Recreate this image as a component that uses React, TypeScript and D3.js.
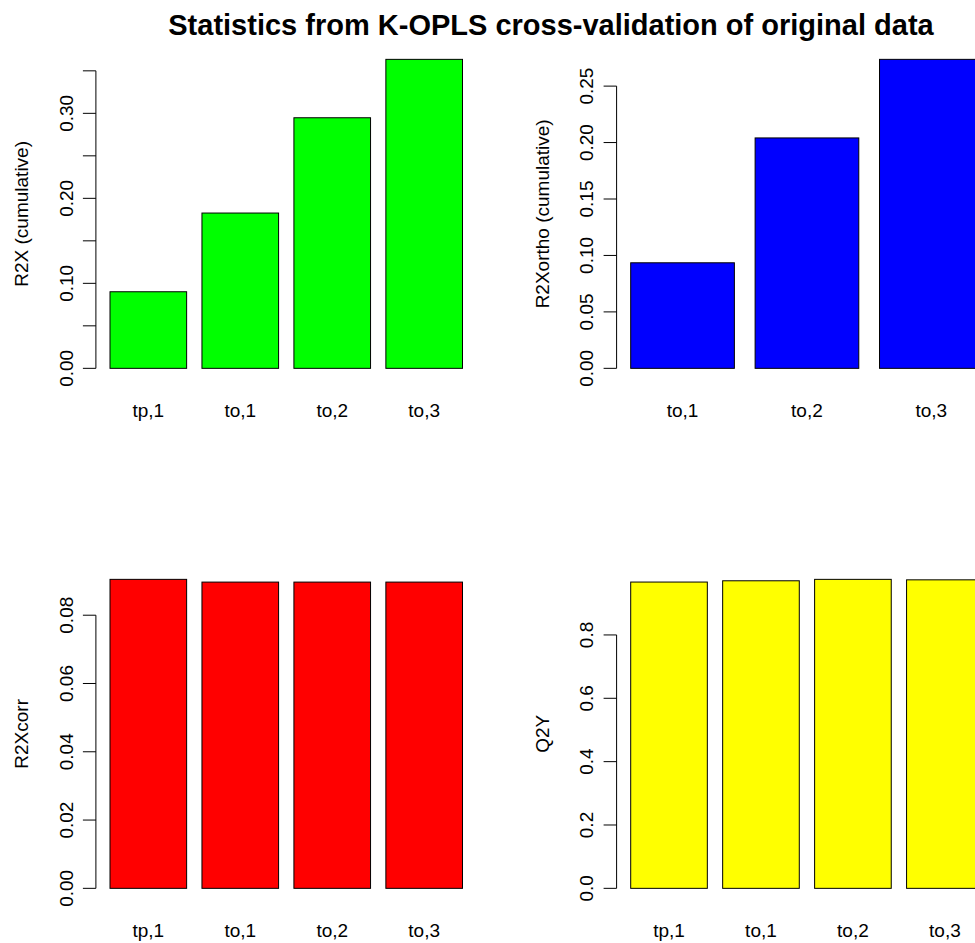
import React from "react";
import * as d3 from "d3";

// K-OPLS cross-validation statistics, one panel per statistic
const componentsAll = ["tp,1", "to,1", "to,2", "to,3"];
const componentsOrtho = ["to,1", "to,2", "to,3"];

const r2xValues = [0.0901, 0.1827, 0.2948, 0.3635];
const r2xOrthoValues = [0.0935, 0.2041, 0.2737];
const r2xCorrValues = [0.0905, 0.0897, 0.0897, 0.0897];
const q2yValues = [0.967, 0.971, 0.9755, 0.974];

const r2xTicks = [0, 0.05, 0.1, 0.15, 0.2, 0.25, 0.3, 0.35];
const r2xTickLabels = ["0.00", "", "0.10", "", "0.20", "", "0.30", ""];
const r2xOrthoTicks = [0, 0.05, 0.1, 0.15, 0.2, 0.25];
const r2xOrthoTickLabels = ["0.00", "0.05", "0.10", "0.15", "0.20", "0.25"];
const r2xCorrTicks = [0, 0.02, 0.04, 0.06, 0.08];
const r2xCorrTickLabels = ["0.00", "0.02", "0.04", "0.06", "0.08"];
const q2yTicks = [0, 0.2, 0.4, 0.6, 0.8];
const q2yTickLabels = ["0.0", "0.2", "0.4", "0.6", "0.8"];

const title = "Statistics from K-OPLS cross-validation of original data";

const FONT = "'Liberation Sans', Arial, Helvetica, sans-serif";
const W = 975;
const H = 943;

// panel geometry (R base graphics style)
const COL_OFFSET = 520.7;
const ROW_OFFSET = 520;
const PLOT_LEFT = 95.9;
const PLOT_WIDTH = 380.7;
const PLOT_TOP = 47;
const PLOT_BOTTOM = 380.7;
const LABEL_SIZE = 19;

type PanelProps = {
  dx: number;
  dy: number;
  categories: string[];
  values: number[];
  ticks: number[];
  tickLabels: string[];
  ylab: string;
  fill: string;
};

function BarPanel({ dx, dy, categories, values, ticks, tickLabels, ylab, fill }: PanelProps) {
  const n = categories.length;
  // barplot units: bar i spans [0.2 + 1.2 i, 1.2 + 1.2 i]; axes extended by 4%
  const xlo = 0.2;
  const xhi = 1.2 * n;
  const xpad = 0.04 * (xhi - xlo);
  const x = d3
    .scaleLinear()
    .domain([xlo - xpad, xhi + xpad])
    .range([dx + PLOT_LEFT, dx + PLOT_LEFT + PLOT_WIDTH]);
  const ymax = d3.max(values) as number;
  const y = d3
    .scaleLinear()
    .domain([-0.04 * ymax, 1.04 * ymax])
    .range([dy + PLOT_BOTTOM, dy + PLOT_TOP]);

  const axisX = dx + PLOT_LEFT;
  const tickLen = 13;
  const yLabCenter = (dy + PLOT_TOP + dy + PLOT_BOTTOM) / 2;

  return (
    <g>
      {values.map((v, i) => {
        const l = x(0.2 + 1.2 * i);
        const r = x(1.2 + 1.2 * i);
        return (
          <rect
            key={i}
            x={l}
            y={y(v)}
            width={r - l}
            height={y(0) - y(v)}
            fill={fill}
            stroke="#000"
            strokeWidth={1}
          />
        );
      })}
      {/* y axis */}
      <line
        x1={axisX}
        x2={axisX}
        y1={y(0)}
        y2={y(ticks[ticks.length - 1])}
        stroke="#000"
        strokeWidth={1}
      />
      {ticks.map((t, i) => (
        <g key={i}>
          <line
            x1={axisX - tickLen}
            x2={axisX}
            y1={y(t)}
            y2={y(t)}
            stroke="#000"
            strokeWidth={1}
          />
          {tickLabels[i] && (
            <text
              transform={`translate(${axisX - 23.2},${y(t)}) rotate(-90)`}
              textAnchor="middle"
              fontFamily={FONT}
              fontSize={LABEL_SIZE}
              fill="#000"
            >
              {tickLabels[i]}
            </text>
          )}
        </g>
      ))}
      {/* category labels */}
      {categories.map((c, i) => (
        <text
          key={c}
          x={x(0.7 + 1.2 * i)}
          y={dy + 416.5}
          textAnchor="middle"
          fontFamily={FONT}
          fontSize={LABEL_SIZE}
          fill="#000"
        >
          {c}
        </text>
      ))}
      {/* y axis title */}
      <text
        transform={`translate(${axisX - 68},${yLabCenter}) rotate(-90)`}
        textAnchor="middle"
        fontFamily={FONT}
        fontSize={LABEL_SIZE}
        fill="#000"
      >
        {ylab}
      </text>
    </g>
  );
}

export default function App() {
  return (
    <svg
      width={W}
      height={H}
      viewBox={`0 0 ${W} ${H}`}
      style={{ position: "absolute", left: 0, top: 0, background: "#fff" }}
    >
      <rect x={0} y={0} width={W} height={H} fill="#fff" />
      <BarPanel
        dx={0}
        dy={0}
        categories={componentsAll}
        values={r2xValues}
        ticks={r2xTicks}
        tickLabels={r2xTickLabels}
        ylab="R2X (cumulative)"
        fill="#00ff00"
      />
      <BarPanel
        dx={COL_OFFSET}
        dy={0}
        categories={componentsOrtho}
        values={r2xOrthoValues}
        ticks={r2xOrthoTicks}
        tickLabels={r2xOrthoTickLabels}
        ylab="R2Xortho (cumulative)"
        fill="#0000ff"
      />
      <BarPanel
        dx={0}
        dy={ROW_OFFSET}
        categories={componentsAll}
        values={r2xCorrValues}
        ticks={r2xCorrTicks}
        tickLabels={r2xCorrTickLabels}
        ylab="R2Xcorr"
        fill="#ff0000"
      />
      <BarPanel
        dx={COL_OFFSET}
        dy={ROW_OFFSET}
        categories={componentsAll}
        values={q2yValues}
        ticks={q2yTicks}
        tickLabels={q2yTickLabels}
        ylab="Q2Y"
        fill="#ffff00"
      />
      <text
        x={551}
        y={35}
        textAnchor="middle"
        fontFamily={FONT}
        fontSize={29}
        fontWeight="bold"
        fill="#000"
      >
        {title}
      </text>
    </svg>
  );
}
